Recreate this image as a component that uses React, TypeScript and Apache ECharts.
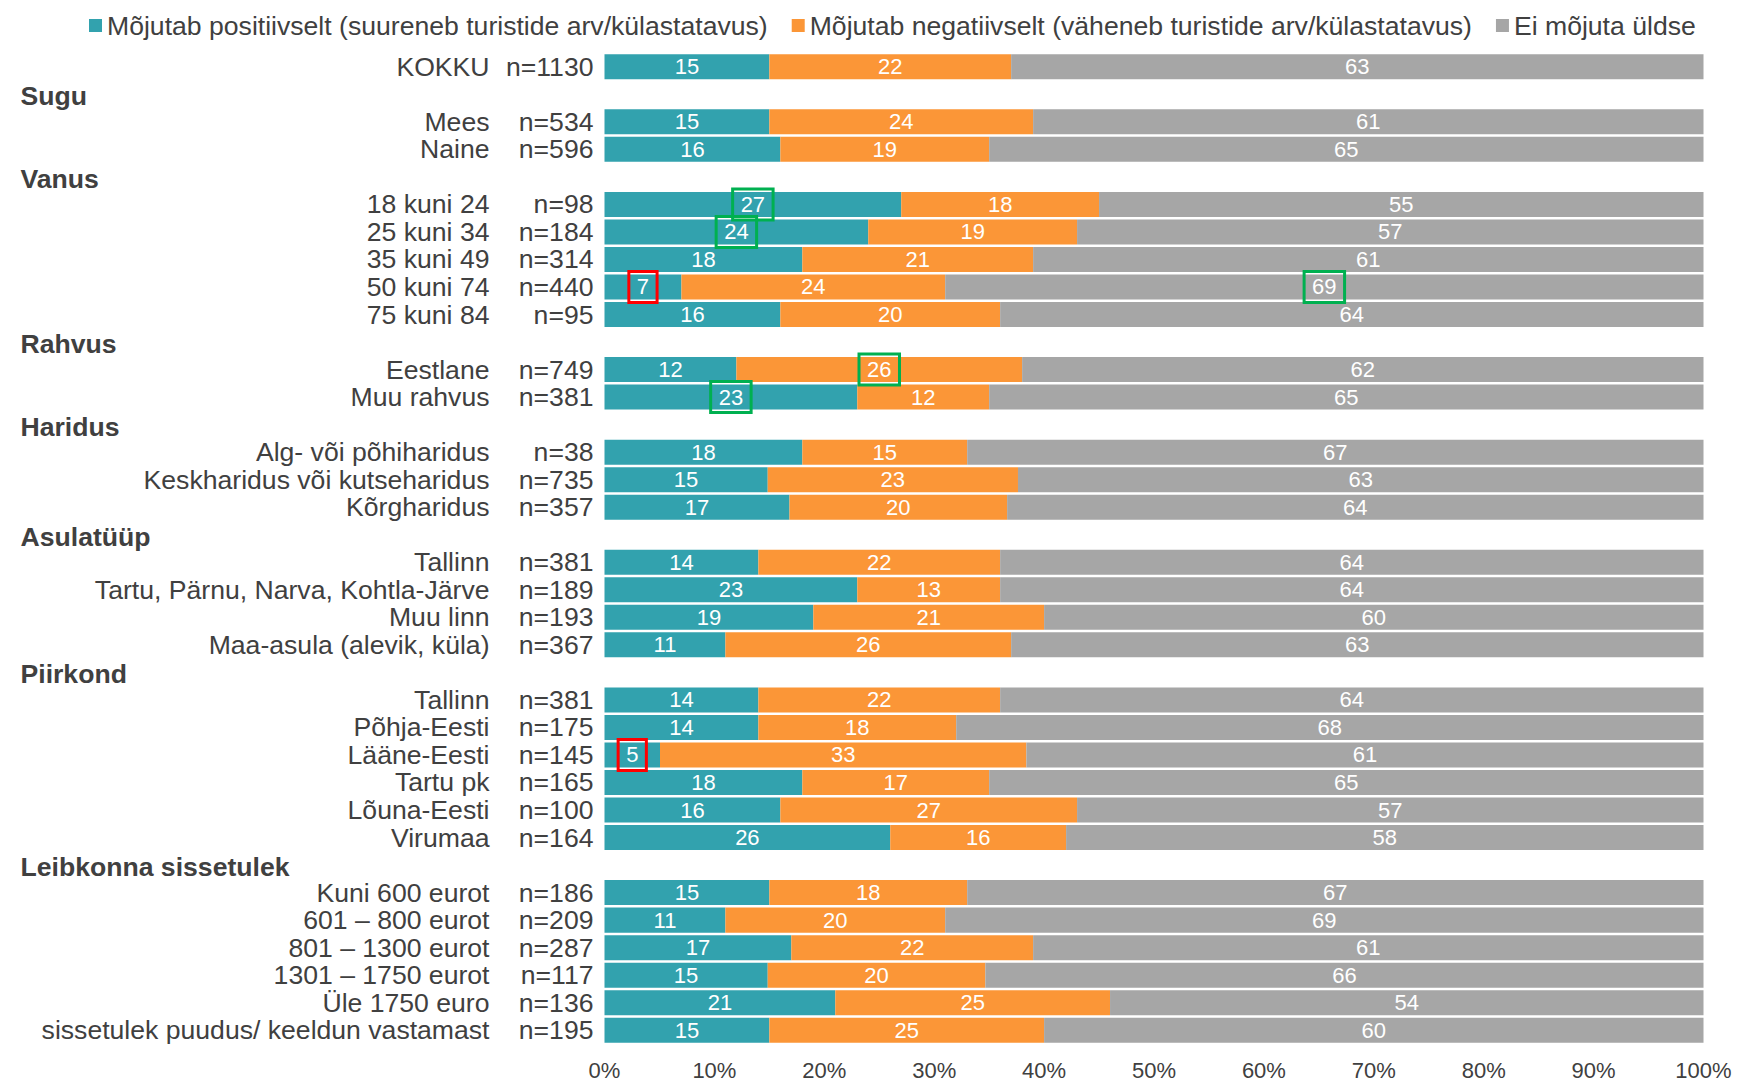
import React, { useEffect, useRef } from "react";
import * as echarts from "echarts";

// Row labels; group headings are rows without bars (isHeader true)
const rowNames = [
  "KOKKU", "Sugu", "Mees", "Naine",
  "Vanus", "18 kuni 24", "25 kuni 34", "35 kuni 49", "50 kuni 74", "75 kuni 84",
  "Rahvus", "Eestlane", "Muu rahvus",
  "Haridus", "Alg- või põhiharidus", "Keskharidus või kutseharidus", "Kõrgharidus",
  "Asulatüüp", "Tallinn", "Tartu, Pärnu, Narva, Kohtla-Järve", "Muu linn", "Maa-asula (alevik, küla)",
  "Piirkond", "Tallinn", "Põhja-Eesti", "Lääne-Eesti", "Tartu pk", "Lõuna-Eesti", "Virumaa",
  "Leibkonna sissetulek", "Kuni 600 eurot", "601 – 800 eurot", "801 – 1300 eurot", "1301 – 1750 eurot", "Üle 1750 euro", "sissetulek puudus/ keeldun vastamast",
];
const isHeader = [
  false, true, false, false,
  true, false, false, false, false, false,
  true, false, false,
  true, false, false, false,
  true, false, false, false, false,
  true, false, false, false, false, false, false,
  true, false, false, false, false, false, false,
];
const sampleSizes: (number | null)[] = [
  1130, null, 534, 596,
  null, 98, 184, 314, 440, 95,
  null, 749, 381,
  null, 38, 735, 357,
  null, 381, 189, 193, 367,
  null, 381, 175, 145, 165, 100, 164,
  null, 186, 209, 287, 117, 136, 195,
];
const positive: (number | null)[] = [
  15, null, 15, 16,
  null, 27, 24, 18, 7, 16,
  null, 12, 23,
  null, 18, 15, 17,
  null, 14, 23, 19, 11,
  null, 14, 14, 5, 18, 16, 26,
  null, 15, 11, 17, 15, 21, 15,
];
const negative: (number | null)[] = [
  22, null, 24, 19,
  null, 18, 19, 21, 24, 20,
  null, 26, 12,
  null, 15, 23, 20,
  null, 22, 13, 21, 26,
  null, 22, 18, 33, 17, 27, 16,
  null, 18, 20, 22, 20, 25, 25,
];
const noEffect: (number | null)[] = [
  63, null, 61, 65,
  null, 55, 57, 61, 69, 64,
  null, 62, 65,
  null, 67, 63, 64,
  null, 64, 64, 60, 63,
  null, 64, 68, 61, 65, 57, 58,
  null, 67, 69, 61, 66, 54, 60,
];
const xTicks = [0, 10, 20, 30, 40, 50, 60, 70, 80, 90, 100];

const seriesNames = [
  "Mõjutab positiivselt (suureneb turistide arv/külastatavus)",
  "Mõjutab negatiivselt (väheneb turistide arv/külastatavus)",
  "Ei mõjuta üldse",
];
const seriesColors = ["#32A2AE", "#FB9637", "#A6A6A6"];

// Highlighted labels: [series index, row index, colour]
const highlights: [number, number, string][] = [
  [0, 5, "#00B050"],
  [0, 6, "#00B050"],
  [0, 8, "#FF0000"],
  [2, 8, "#00B050"],
  [1, 11, "#00B050"],
  [0, 12, "#00B050"],
  [0, 25, "#FF0000"],
];

const FONT = "'Liberation Sans', Arial, sans-serif";
const TEXT = "#404040";
const LABEL_SIZE = 26.6;

export default function App() {
  const ref = useRef<HTMLDivElement>(null);

  useEffect(() => {
    document.body.style.margin = "0";
    const chart = echarts.init(ref.current!, null, { renderer: "svg" });

    const values = [positive, negative, noEffect];
    // 100% stacked: each row is scaled to its own total
    const totals = rowNames.map((_, i) =>
      values.reduce((s, arr) => s + (arr[i] ?? 0), 0)
    );

    const series = values.map((arr, si) => ({
      name: seriesNames[si],
      type: "bar",
      stack: "total",
      barCategoryGap: "9%",
      itemStyle: { color: seriesColors[si] },
      label: {
        show: true,
        position: "inside",
        color: "#ffffff",
        fontSize: 22,
        fontFamily: FONT,
        formatter: (p: any) => (p.data && p.data.raw != null ? String(p.data.raw) : ""),
      },
      data: arr.map((v, i) => {
        if (v == null) return { value: null, raw: null };
        const item: any = { value: (v / totals[i]) * 100, raw: v };
        const h = highlights.find((x) => x[0] === si && x[1] === i);
        if (h) {
          item.label = {
            borderColor: h[2],
            borderWidth: 3,
            padding: [5, 8, 4, 8],
          };
        }
        return item;
      }),
    }));

    chart.setOption({
      animation: false,
      textStyle: { fontFamily: FONT },
      legend: {
        data: seriesNames,
        left: 84,
        top: 7,
        icon: "rect",
        itemWidth: 13,
        itemHeight: 13,
        itemGap: 24,
        textStyle: { fontSize: LABEL_SIZE, color: TEXT, fontFamily: FONT },
      },
      grid: { left: 604.5, right: 35.5, top: 53, bottom: 37, containLabel: false },
      xAxis: {
        type: "value",
        min: 0,
        max: 100,
        interval: 10,
        axisLine: { show: false },
        axisTick: { show: false },
        splitLine: { show: false },
        axisLabel: {
          margin: 15,
          fontSize: 22,
          color: TEXT,
          fontFamily: FONT,
          formatter: (v: number) => (xTicks.includes(v) ? `${v}%` : ""),
        },
      },
      yAxis: {
        type: "category",
        inverse: true,
        data: rowNames.map((_, i) => `r${i}`),
        axisLine: { show: false },
        axisTick: { show: false },
        axisLabel: {
          margin: 11,
          interval: 0,
          fontFamily: FONT,
          formatter: (_v: string, i: number) =>
            isHeader[i]
              ? `{h|${rowNames[i]}}`
              : `{name|${rowNames[i]}}{n|n=${sampleSizes[i]}}`,
          rich: {
            h: {
              width: 573,
              align: "left",
              fontSize: LABEL_SIZE,
              fontWeight: "bold",
              color: TEXT,
              fontFamily: FONT,
              padding: [4, 0, 0, 0],
            },
            name: { fontSize: LABEL_SIZE, color: TEXT, fontFamily: FONT },
            n: { width: 104, align: "right", fontSize: LABEL_SIZE, color: TEXT, fontFamily: FONT },
          },
        },
      },
      series,
    });

    return () => chart.dispose();
  }, []);

  return <div ref={ref} style={{ width: 1739, height: 1081 }} />;
}
